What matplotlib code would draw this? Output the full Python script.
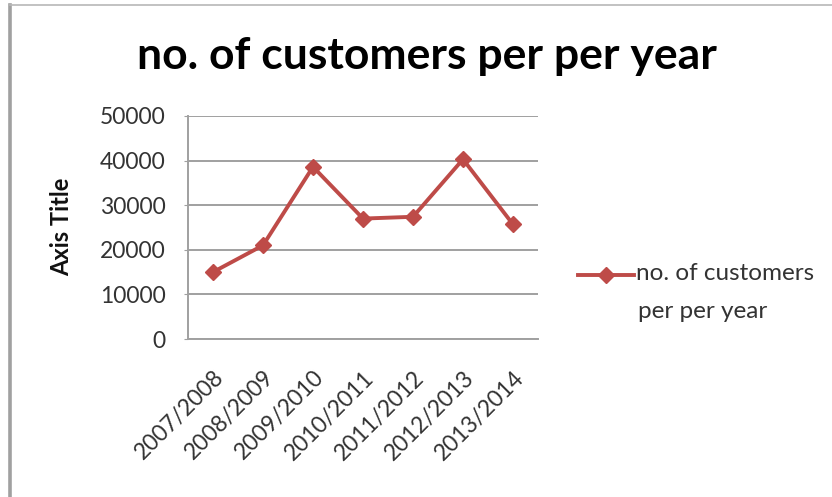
import matplotlib
matplotlib.use("Agg")
import matplotlib.pyplot as plt
from matplotlib.lines import Line2D

seasons = ["2007/2008", "2008/2009", "2009/2010", "2010/2011",
           "2011/2012", "2012/2013", "2013/2014"]
customers = [15000, 21000, 38600, 27000, 27400, 40300, 25700]
y_ticks = [0, 10000, 20000, 30000, 40000, 50000]
series_name = "no. of customers\nper per year"
chart_title = "no. of customers per per year"

RED = "#BE4B48"
GRID = "#A0A0A0"
TXT = "#333333"
FONT = "Lato"

W, H = 832, 497
fig = plt.figure(figsize=(W / 100, H / 100), dpi=100)
fig.patch.set_facecolor("white")


def fx(px):
    return px / W


def fy(py):
    return 1 - py / H


# outer chart border (left and top edges)
fig.add_artist(Line2D([fx(10), fx(10)], [0, fy(5)], transform=fig.transFigure,
                      color="#A0A0A0", lw=2.6))
fig.add_artist(Line2D([fx(10), 1], [fy(5), fy(5)], transform=fig.transFigure,
                      color="#B8B8B8", lw=1.2))

ax = fig.add_axes([fx(188), fy(339), (538 - 188) / W, (339 - 116) / H])
x = list(range(len(seasons)))
ax.plot(x, customers, color=RED, lw=2.8, marker="D", markersize=8.5,
        markeredgecolor=RED, markerfacecolor=RED, zorder=3)

ax.set_xlim(-0.5, len(seasons) - 0.5)
ax.set_ylim(0, 50000)
ax.set_yticks(y_ticks)
ax.set_yticklabels([str(v) for v in y_ticks], fontsize=16.5, color=TXT, family=FONT)
ax.set_xticks(x)
ax.set_xticklabels(seasons, rotation=45, ha="right", rotation_mode="anchor",
                   fontsize=16.5, color=TXT, family=FONT)
ax.tick_params(axis="y", length=3, color=GRID, pad=13)
ax.tick_params(axis="x", length=0, pad=20)
ax.grid(axis="y", color=GRID, lw=1.4)
ax.set_axisbelow(True)
for s in ["top", "right"]:
    ax.spines[s].set_visible(False)
for s in ["left", "bottom"]:
    ax.spines[s].set_color(GRID)
    ax.spines[s].set_linewidth(1.4)

# value axis title
fig.text(fx(62), fy(227), "Axis Title", rotation=90, ha="center", va="center",
         fontsize=17, fontweight="bold", family=FONT, color="#111111")

fig.text(fx(427), fy(56), chart_title, ha="center", va="center",
         fontsize=32, fontweight="bold", family=FONT, color="black")

# series key on the right
ly = fy(275)
fig.add_artist(Line2D([fx(578), fx(634)], [ly, ly], transform=fig.transFigure,
                      color=RED, lw=2.8))
fig.add_artist(Line2D([fx(606)], [ly], transform=fig.transFigure, color=RED,
                      marker="D", markersize=8, linestyle="none"))
key_lines = series_name.split("\n")
fig.text(fx(636), fy(274), key_lines[0], ha="left", va="center",
         fontsize=17.5, family=FONT, color=TXT)
fig.text(fx(638), fy(311), key_lines[1], ha="left", va="center",
         fontsize=17.5, family=FONT, color=TXT)

fig.savefig("out.png", dpi=100, facecolor="white")
